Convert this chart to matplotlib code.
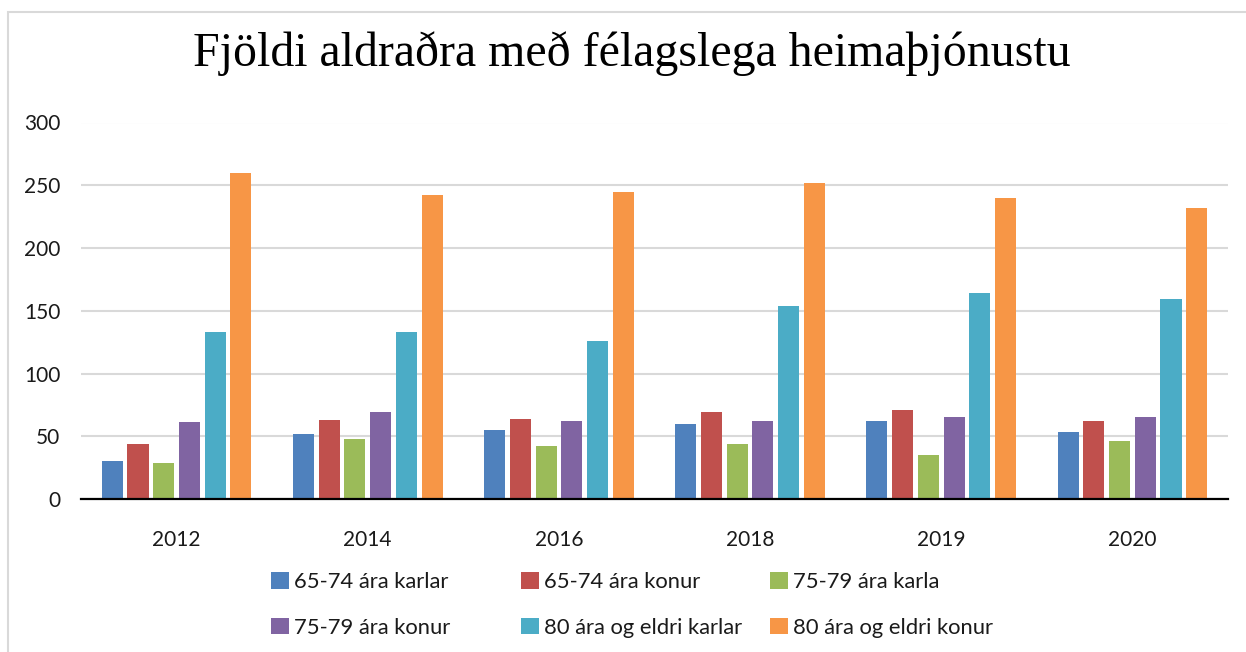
import matplotlib
matplotlib.use("Agg")
import matplotlib.pyplot as plt
import numpy as np
from matplotlib.patches import Rectangle

years = ["2012", "2014", "2016", "2018", "2019", "2020"]
series_names = ["65-74 ára karlar", "65-74 ára konur", "75-79 ára karla",
                "75-79 ára konur", "80 ára og eldri karlar", "80 ára og eldri konur"]
karlar_65_74 = [30, 52, 55, 60, 62, 53]
konur_65_74 = [44, 63, 64, 69, 71, 62]
karla_75_79 = [29, 48, 42, 44, 35, 46]
konur_75_79 = [61, 69, 62, 62, 65, 65]
karlar_80 = [133, 133, 126, 154, 164, 159]
konur_80 = [260, 242, 245, 252, 240, 232]
series_values = [karlar_65_74, konur_65_74, karla_75_79, konur_75_79, karlar_80, konur_80]
colors = ["#4F81BD", "#C0504D", "#9BBB59", "#8064A2", "#4BACC6", "#F79646"]
yticks = [0, 50, 100, 150, 200, 250, 300]

W, H = 1246, 652
fig = plt.figure(figsize=(W / 100, H / 100), dpi=100)
fig.patch.set_facecolor("white")

# outer chart border (left & top visible)
fig.patches.append(Rectangle((8 / W, -0.1), 1.2, 1 - 12 / H + 0.1, transform=fig.transFigure,
                             fill=False, edgecolor="#d9d9d9", linewidth=1.5, zorder=0))

ax = fig.add_axes([81 / W, 1 - 499 / H, (1228 - 81) / W, (499 - 122.5) / H])
x = np.arange(len(years))
stride = 0.1346
width = 0.110
handles = []
for i, (vals, c) in enumerate(zip(series_values, colors)):
    b = ax.bar(x + (i - 2.5) * stride, vals, width=width, color=c, label=series_names[i], zorder=3)
    handles.append(b)

ax.set_xlim(-0.5, len(years) - 0.5)
ax.set_ylim(0, 300)
ax.set_yticks(yticks)
ax.set_xticks(x)
ax.set_xticklabels(years)
ax.yaxis.grid(True, color="#d9d9d9", linewidth=1.5, zorder=0)
ax.set_axisbelow(True)
for s in ["left", "right", "top"]:
    ax.spines[s].set_visible(False)
ax.spines["bottom"].set_color("black")
ax.spines["bottom"].set_linewidth(1.6)
ax.spines["bottom"].set_zorder(4)
ax.tick_params(axis="both", length=0, labelsize=15, labelcolor="#1a1a1a")
ax.tick_params(axis="x", pad=22)
ax.tick_params(axis="y", pad=15)
for lbl in ax.get_xticklabels() + ax.get_yticklabels():
    lbl.set_fontfamily("Lato")

fig.text(632 / W, 1 - 66.5 / H, "Fjöldi aldraðra með félagslega heimaþjónustu",
         ha="center", va="baseline", fontsize=34.5, family="Liberation Serif", color="black")

# legend: three evenly spaced columns, two rows
col_x = [271, 521, 770]
for ci in range(3):
    hs = [handles[ci], handles[ci + 3]]
    ls = [series_names[ci], series_names[ci + 3]]
    leg = fig.legend(hs, ls, loc="center left", bbox_to_anchor=(col_x[ci] / W, 1 - 605 / H),
                     frameon=False, borderpad=0, borderaxespad=0,
                     handlelength=0.8, handleheight=0.8, handletextpad=0.25,
                     labelspacing=1.15, prop={"family": "Lato", "size": 15.8})
    for t in leg.get_texts():
        t.set_color("#1a1a1a")

fig.savefig("out.png", dpi=100, facecolor="white")
